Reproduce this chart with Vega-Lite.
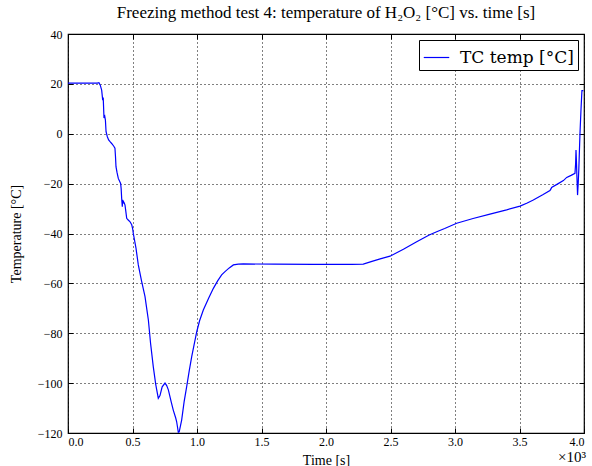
{
  "$schema": "https://vega.github.io/schema/vega-lite/v6.json",
  "width": 516,
  "height": 399,
  "autosize": {"type": "none"},
  "padding": {"left": 68, "top": 34, "right": 8, "bottom": 33},
  "background": "white",
  "config": {
    "font": "Liberation Serif",
    "view": {"stroke": "black", "strokeWidth": 1.2},
    "axis": {
      "labelFont": "Liberation Serif",
      "titleFont": "Liberation Serif",
      "labelFontSize": 12,
      "titleFontSize": 14,
      "labelColor": "black",
      "titleColor": "black",
      "titleFontWeight": "normal",
      "domain": false,
      "tickColor": "black",
      "tickSize": -5,
      "gridColor": "black",
      "gridDash": [1, 3],
      "gridOpacity": 1,
      "gridWidth": 1
    }
  },
  "title": {
    "text": "Freezing method test 4: temperature of H₂O₂ [°C] vs. time [s]",
    "font": "Liberation Serif",
    "fontSize": 17,
    "fontWeight": "normal",
    "color": "black",
    "offset": 6
  },
  "data": {
    "values": [
      {"t": 0, "T": 20.3}, {"t": 100, "T": 20.3}, {"t": 200, "T": 20.3}, {"t": 227, "T": 20.3},
      {"t": 240, "T": 20.5}, {"t": 250, "T": 19.5}, {"t": 261, "T": 17.5}, {"t": 269, "T": 13.5},
      {"t": 273, "T": 14.5}, {"t": 279, "T": 6.3}, {"t": 285, "T": 7}, {"t": 290, "T": 5.5},
      {"t": 295, "T": 0.8}, {"t": 305, "T": -1.2}, {"t": 315, "T": -2.5}, {"t": 326, "T": -3.2},
      {"t": 340, "T": -4}, {"t": 355, "T": -5}, {"t": 364, "T": -5.8}, {"t": 368, "T": -9},
      {"t": 372, "T": -13.2}, {"t": 380, "T": -15.5}, {"t": 390, "T": -17.9}, {"t": 400, "T": -19},
      {"t": 408, "T": -19.9}, {"t": 412, "T": -22}, {"t": 416, "T": -25.9}, {"t": 419, "T": -28},
      {"t": 421, "T": -29.3}, {"t": 423, "T": -26.5}, {"t": 426, "T": -28}, {"t": 430, "T": -27.2},
      {"t": 436, "T": -27.8}, {"t": 442, "T": -28.6}, {"t": 448, "T": -31}, {"t": 455, "T": -33.9},
      {"t": 465, "T": -34.5}, {"t": 481, "T": -35.3}, {"t": 494, "T": -36.5}, {"t": 501, "T": -38},
      {"t": 506, "T": -39.9}, {"t": 527, "T": -45.9}, {"t": 545, "T": -52.6}, {"t": 570, "T": -59},
      {"t": 597, "T": -65.3}, {"t": 610, "T": -70}, {"t": 623, "T": -74.7}, {"t": 640, "T": -84},
      {"t": 661, "T": -93.4}, {"t": 680, "T": -100.5}, {"t": 700, "T": -106.1}, {"t": 713, "T": -105},
      {"t": 730, "T": -101.5}, {"t": 752, "T": -100}, {"t": 765, "T": -101}, {"t": 778, "T": -102.7},
      {"t": 800, "T": -107.5}, {"t": 816, "T": -110.8}, {"t": 835, "T": -114}, {"t": 842, "T": -115.4},
      {"t": 850, "T": -118}, {"t": 855, "T": -119.7}, {"t": 862, "T": -119.5}, {"t": 870, "T": -117.5},
      {"t": 881, "T": -114.8}, {"t": 900, "T": -107.5}, {"t": 920, "T": -101.4}, {"t": 940, "T": -95},
      {"t": 959, "T": -89.4}, {"t": 980, "T": -84}, {"t": 998, "T": -79.4}, {"t": 1020, "T": -75},
      {"t": 1049, "T": -70.7}, {"t": 1090, "T": -66}, {"t": 1127, "T": -62}, {"t": 1160, "T": -59},
      {"t": 1191, "T": -56.6}, {"t": 1217, "T": -55.3}, {"t": 1250, "T": -53.8}, {"t": 1282, "T": -52.6},
      {"t": 1320, "T": -52.3}, {"t": 1359, "T": -52.2}, {"t": 1600, "T": -52.3}, {"t": 1900, "T": -52.4},
      {"t": 2200, "T": -52.4}, {"t": 2289, "T": -52.3}, {"t": 2350, "T": -51.3}, {"t": 2420, "T": -50.2},
      {"t": 2496, "T": -49.1}, {"t": 2600, "T": -46.3}, {"t": 2703, "T": -43.3}, {"t": 2800, "T": -40.6},
      {"t": 2858, "T": -39.3}, {"t": 2920, "T": -38}, {"t": 3013, "T": -35.9}, {"t": 3140, "T": -34},
      {"t": 3271, "T": -32.2}, {"t": 3400, "T": -30.5}, {"t": 3504, "T": -29}, {"t": 3560, "T": -27.8},
      {"t": 3607, "T": -26.6}, {"t": 3680, "T": -24.5}, {"t": 3736, "T": -22.8}, {"t": 3745, "T": -22},
      {"t": 3749, "T": -21.5}, {"t": 3800, "T": -20}, {"t": 3840, "T": -18.8}, {"t": 3866, "T": -17.5},
      {"t": 3900, "T": -16.7}, {"t": 3930, "T": -15.9}, {"t": 3935, "T": -12}, {"t": 3938, "T": -6.5},
      {"t": 3942, "T": -12}, {"t": 3945, "T": -17}, {"t": 3950, "T": -24.6}, {"t": 3955, "T": -20},
      {"t": 3960, "T": -14}, {"t": 3969, "T": 0.3}, {"t": 3977, "T": 10}, {"t": 3984, "T": 17.3},
      {"t": 3995, "T": 17.3}
    ]
  },
  "layer": [
    {
      "mark": {"type": "line", "strokeWidth": 1.2, "clip": true},
      "encoding": {
        "x": {
          "field": "t", "type": "quantitative",
          "scale": {"domain": [0, 4000], "nice": false, "zero": false},
          "axis": {
            "orient": "bottom",
            "values": [0, 500, 1000, 1500, 2000, 2500, 3000, 3500, 4000],
            "labelExpr": "format(datum.value / 1000, '.1f')",
            "title": "Time [s]",
            "titlePadding": 6,
            "labelPadding": 8,
            "grid": true
          }
        },
        "y": {
          "field": "T", "type": "quantitative",
          "scale": {"domain": [-120, 40], "nice": false, "zero": false},
          "axis": {
            "orient": "left",
            "values": [-120, -100, -80, -60, -40, -20, 0, 20, 40],
            "format": "d",
            "title": "Temperature [°C]",
            "titlePadding": 14,
            "labelPadding": 11,
            "grid": true
          }
        },
        "color": {
          "datum": "TC temp [°C]",
          "type": "nominal",
          "scale": {"range": ["#0000ff"]},
          "legend": {
            "title": null,
            "orient": "top-right",
            "offset": 6,
            "symbolType": "stroke",
            "symbolSize": 650,
            "symbolStrokeWidth": 1.2,
            "labelFont": "DejaVu Serif",
            "labelFontSize": 17,
            "labelColor": "black",
            "strokeColor": "black",
            "fillColor": "white",
            "padding": 4,
            "labelOffset": 10,
            "cornerRadius": 0
          }
        }
      }
    },
    {
      "data": {"values": [{"t": 4000, "T": -120, "label": "×10³"}]},
      "mark": {"type": "text", "align": "right", "baseline": "top", "dy": 17, "dx": 2, "fontSize": 15, "font": "Liberation Serif", "color": "black"},
      "encoding": {
        "x": {
          "field": "t", "type": "quantitative",
          "axis": {"orient": "top", "values": [0, 500, 1000, 1500, 2000, 2500, 3000, 3500, 4000], "labels": false, "title": null, "grid": false}
        },
        "y": {
          "field": "T", "type": "quantitative",
          "axis": {"orient": "right", "values": [-120, -100, -80, -60, -40, -20, 0, 20, 40], "labels": false, "title": null, "grid": false}
        },
        "text": {"field": "label"}
      }
    }
  ]
}
